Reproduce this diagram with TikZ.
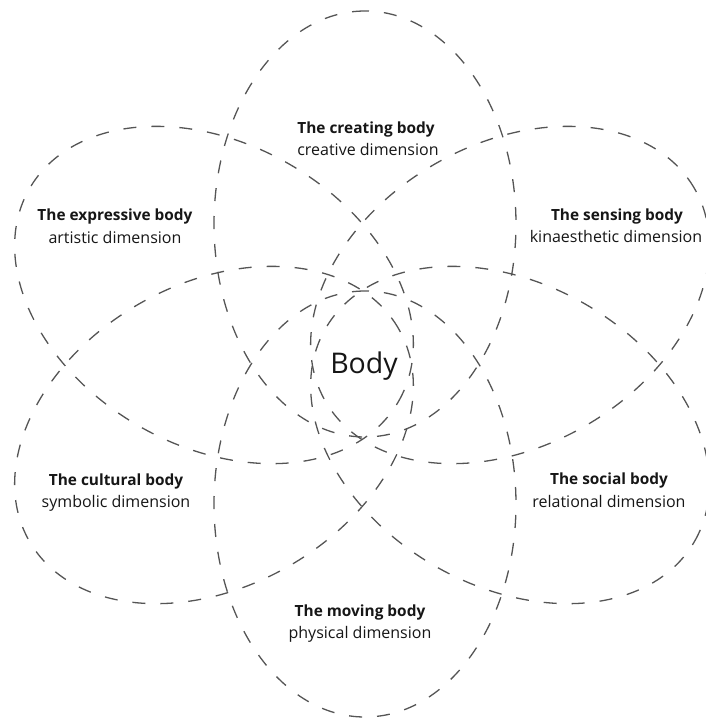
\documentclass[tikz,border=0pt]{standalone}
\usepackage{fontspec}
\setmainfont{Open Sans}
\usepackage{tikz}

\definecolor{petalgray}{HTML}{555555}
\definecolor{labelgray}{HTML}{161616}

\begin{document}
\begin{tikzpicture}[x=1pt, y=-1pt,
    petal/.style={draw=petalgray, line width=1.3pt, dash pattern=on 13pt off 15pt},
    title/.style={anchor=base, inner sep=0pt, text=labelgray, font=\fontsize{15.4}{19}\selectfont\bfseries},
    dim/.style={anchor=base, inner sep=0pt, text=labelgray, font=\fontsize{16}{19}\selectfont}]
    \useasboundingbox (0,0) rectangle (706,720);

    % Six dashed petals round the centre
    \foreach \cx/\cy/\ang in {365/224/90, 365/504/90, 214/295/-30, 510/295/30, 214/435/30, 510/435/-30}
        \draw[petal, rotate around={\ang:(\cx,\cy)}] (\cx,\cy) ellipse [x radius=213pt, y radius=151pt];

    % Petal labels
    \node[title] (creating) at (366,133) {The creating body};
    \node[dim] (creatingdim) at (368,155) {creative dimension};
    \node[title] (expressive) at (115,220) {The expressive body};
    \node[dim] (expressivedim) at (115,243) {artistic dimension};
    \node[title] (sensing) at (617,220) {The sensing body};
    \node[dim] (sensingdim) at (616,242) {kinaesthetic dimension};
    \node[title] (cultural) at (116,485) {The cultural body};
    \node[dim] (culturaldim) at (116,507) {symbolic dimension};
    \node[title] (social) at (609,484) {The social body};
    \node[dim] (socialdim) at (609,507) {relational dimension};
    \node[title] (moving) at (360,616) {The moving body};
    \node[dim] (movingdim) at (360,638) {physical dimension};

    % Centre
    \node[anchor=base, inner sep=0pt, text=labelgray, font=\fontsize{28.5}{34}\selectfont] (body) at (364,373) {Body};
\end{tikzpicture}
\end{document}
